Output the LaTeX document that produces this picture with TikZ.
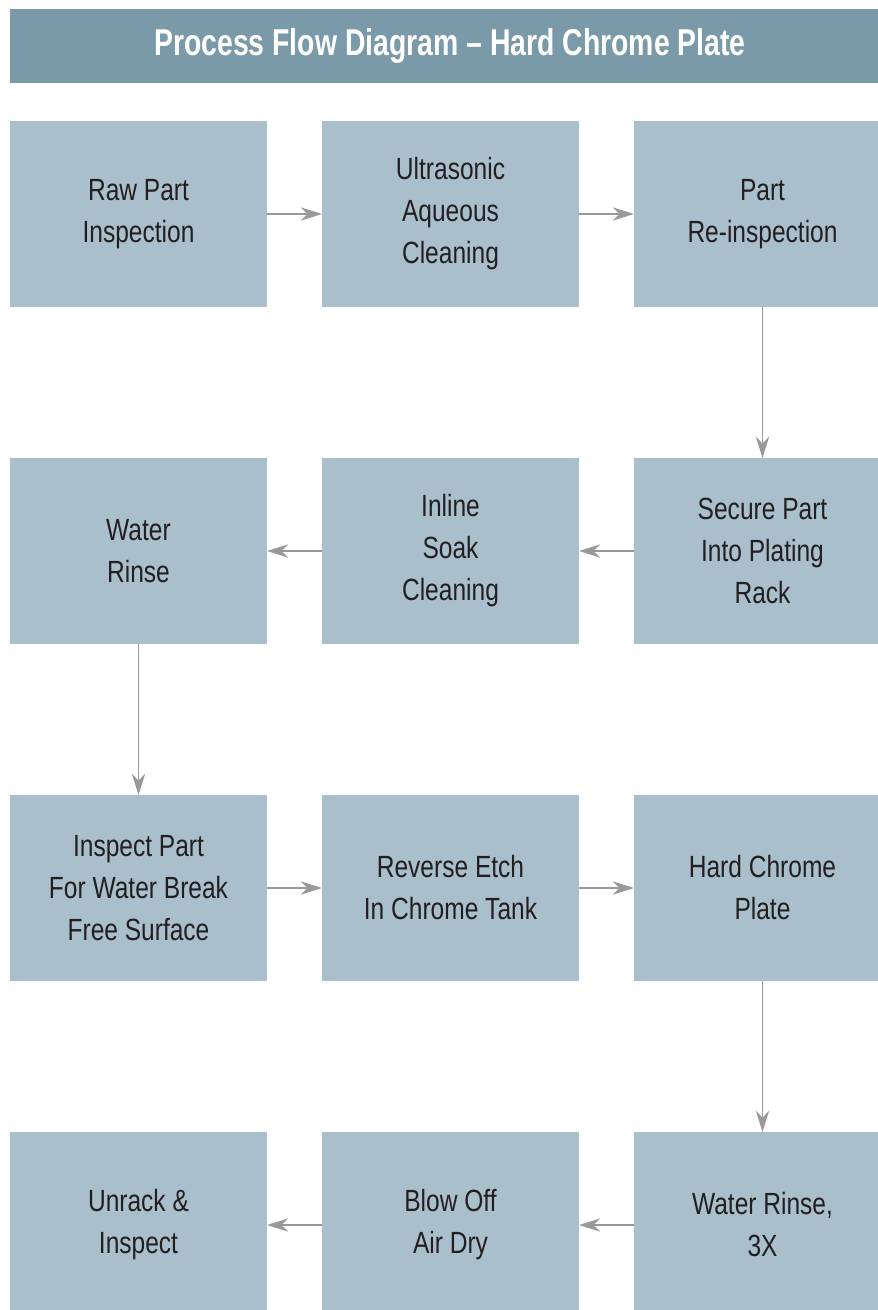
\documentclass[tikz,border=0pt]{standalone}
\usepackage{fontspec}
\setmainfont[FakeStretch=0.8]{Liberation Sans}
\newfontfamily\titlefont[FakeStretch=0.76,Ligatures=TeX]{Liberation Sans}
\usepackage{tikz}
\usetikzlibrary{arrows.meta,positioning}
\definecolor{boxfill}{HTML}{A9BFCC}
\definecolor{barfill}{HTML}{7A9AAA}
\definecolor{arrgray}{HTML}{999999}
\definecolor{ink}{HTML}{231F20}

\begin{document}
\begin{tikzpicture}[x=0.75pt,y=-0.75pt,
  font=\fontsize{23}{31.5}\selectfont,
  node distance=113.25pt and 41.25pt,
  stepbox/.style={fill=boxfill,text=ink,outer sep=0pt,minimum width=192.75pt,minimum height=139.5pt,align=center},
  arr/.style={-{Stealth[length=16pt,width=10pt]},line width=1.4pt,arrgray}]
\useasboundingbox (0,0) rectangle (878,1310);
\clip (0,0) rectangle (878,1310);
\node[fill=barfill,text=white,outer sep=0pt,minimum width=660pt,minimum height=55.5pt,
  font=\titlefont\fontsize{28}{30}\selectfont\bfseries] (title) at (450,46) {Process Flow Diagram -- Hard Chrome Plate};
% row 1
\node[stepbox] (a) at (138.5,214) {Raw Part\\Inspection};
\node[stepbox,right=of a] (b) {Ultrasonic\\Aqueous\\Cleaning};
\node[stepbox,right=of b] (c) {Part\\Re-inspection};
% row 2
\node[stepbox,below=of c] (d) {Secure Part\\Into Plating\\Rack};
\node[stepbox,left=of d] (e) {Inline\\Soak\\Cleaning};
\node[stepbox,left=of e] (f) {Water\\Rinse};
% row 3
\node[stepbox,below=of f] (g) {Inspect Part\\For Water Break\\Free Surface};
\node[stepbox,right=of g] (h) {Reverse Etch\\In Chrome Tank};
\node[stepbox,right=of h] (i) {Hard Chrome\\Plate};
% row 4
\node[stepbox,below=of i] (j) {Water Rinse,\\3X};
\node[stepbox,left=of j] (k) {Blow Off\\Air Dry};
\node[stepbox,left=of k] (l) {Unrack \&\\Inspect};
\draw[arr] (a)--(b); \draw[arr] (b)--(c); \draw[arr] (c)--(d);
\draw[arr] (d)--(e); \draw[arr] (e)--(f); \draw[arr] (f)--(g);
\draw[arr] (g)--(h); \draw[arr] (h)--(i); \draw[arr] (i)--(j);
\draw[arr] (j)--(k); \draw[arr] (k)--(l);
\end{tikzpicture}
\end{document}
